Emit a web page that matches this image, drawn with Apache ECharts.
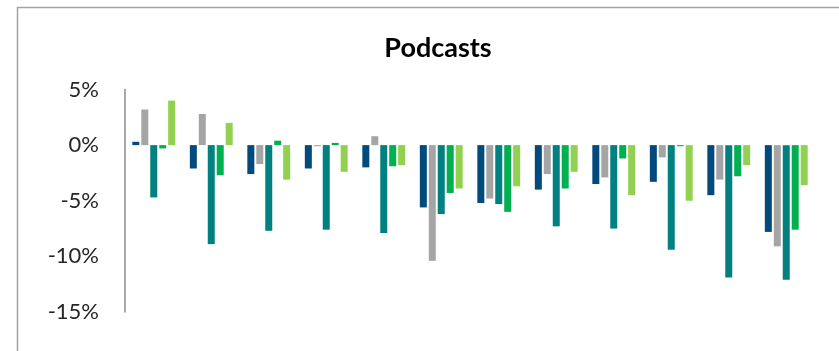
<!DOCTYPE html>
<html>
<head>
<meta charset="utf-8">
<script src="https://cdn.jsdelivr.net/npm/echarts@6/dist/echarts.min.js"></script>
<style>
  html, body { margin: 0; padding: 0; background: #fff; }
  #chart { width: 839px; height: 351px; }
</style>
</head>
<body>
<div id="chart"></div>
<script>
// Twelve periods, five series each (percent change)
const categories = ['1', '2', '3', '4', '5', '6', '7', '8', '9', '10', '11', '12'];
const seriesNames = ['A', 'B', 'C', 'D', 'E'];
const seriesColors = ['#004A7C', '#A5A5A5', '#00807F', '#00B050', '#92D050'];

const valuesA = [0.3, -2.1, -2.6, -2.1, -2.0, -5.6, -5.2, -4.0, -3.5, -3.3, -4.5, -7.8];
const valuesB = [3.2, 2.8, -1.7, -0.1, 0.8, -10.4, -4.8, -2.6, -2.9, -1.1, -3.1, -9.1];
const valuesC = [-4.7, -8.9, -7.7, -7.6, -7.9, -6.2, -5.3, -7.3, -7.5, -9.4, -11.9, -12.1];
const valuesD = [-0.3, -2.7, 0.4, 0.2, -1.9, -4.3, -6.0, -3.9, -1.2, -0.1, -2.8, -7.6];
const valuesE = [4.0, 2.0, -3.1, -2.4, -1.8, -3.9, -3.7, -2.4, -4.5, -5.0, -1.8, -3.6];
const allValues = [valuesA, valuesB, valuesC, valuesD, valuesE];

const chart = echarts.init(document.getElementById('chart'), null, { renderer: 'canvas' });

chart.setOption({
  animation: false,
  backgroundColor: '#ffffff',
  title: {
    text: 'Podcasts',
    left: 433,
    top: 30,
    textAlign: 'center',
    textStyle: { fontFamily: 'Lato', fontWeight: 'bold', fontSize: 27, color: '#000' }
  },
  graphic: [{
    type: 'rect',
    shape: { x: 17.5, y: 7.5, width: 900, height: 400 },
    style: { fill: 'none', stroke: '#a3a3a3', lineWidth: 1.5 },
    silent: true
  }],
  grid: { left: 125, right: 24, top: 89.5, bottom: 39 },
  xAxis: {
    type: 'category',
    data: categories,
    axisLine: { show: false },
    axisTick: { show: false },
    axisLabel: { show: false }
  },
  yAxis: {
    type: 'value',
    min: -15,
    max: 5,
    interval: 5,
    axisLine: { show: true, lineStyle: { color: '#8c8c8c', width: 1.5 } },
    axisTick: { show: false },
    splitLine: { show: false },
    axisLabel: {
      formatter: v => v + '%',
      margin: 26,
      fontFamily: 'Lato',
      fontSize: 22,
      color: '#262626'
    }
  },
  series: allValues.map((vals, i) => ({
    name: seriesNames[i],
    type: 'bar',
    data: vals,
    barWidth: 7,
    barGap: '28%',
    itemStyle: { color: seriesColors[i] }
  }))
});
</script>
</body>
</html>
